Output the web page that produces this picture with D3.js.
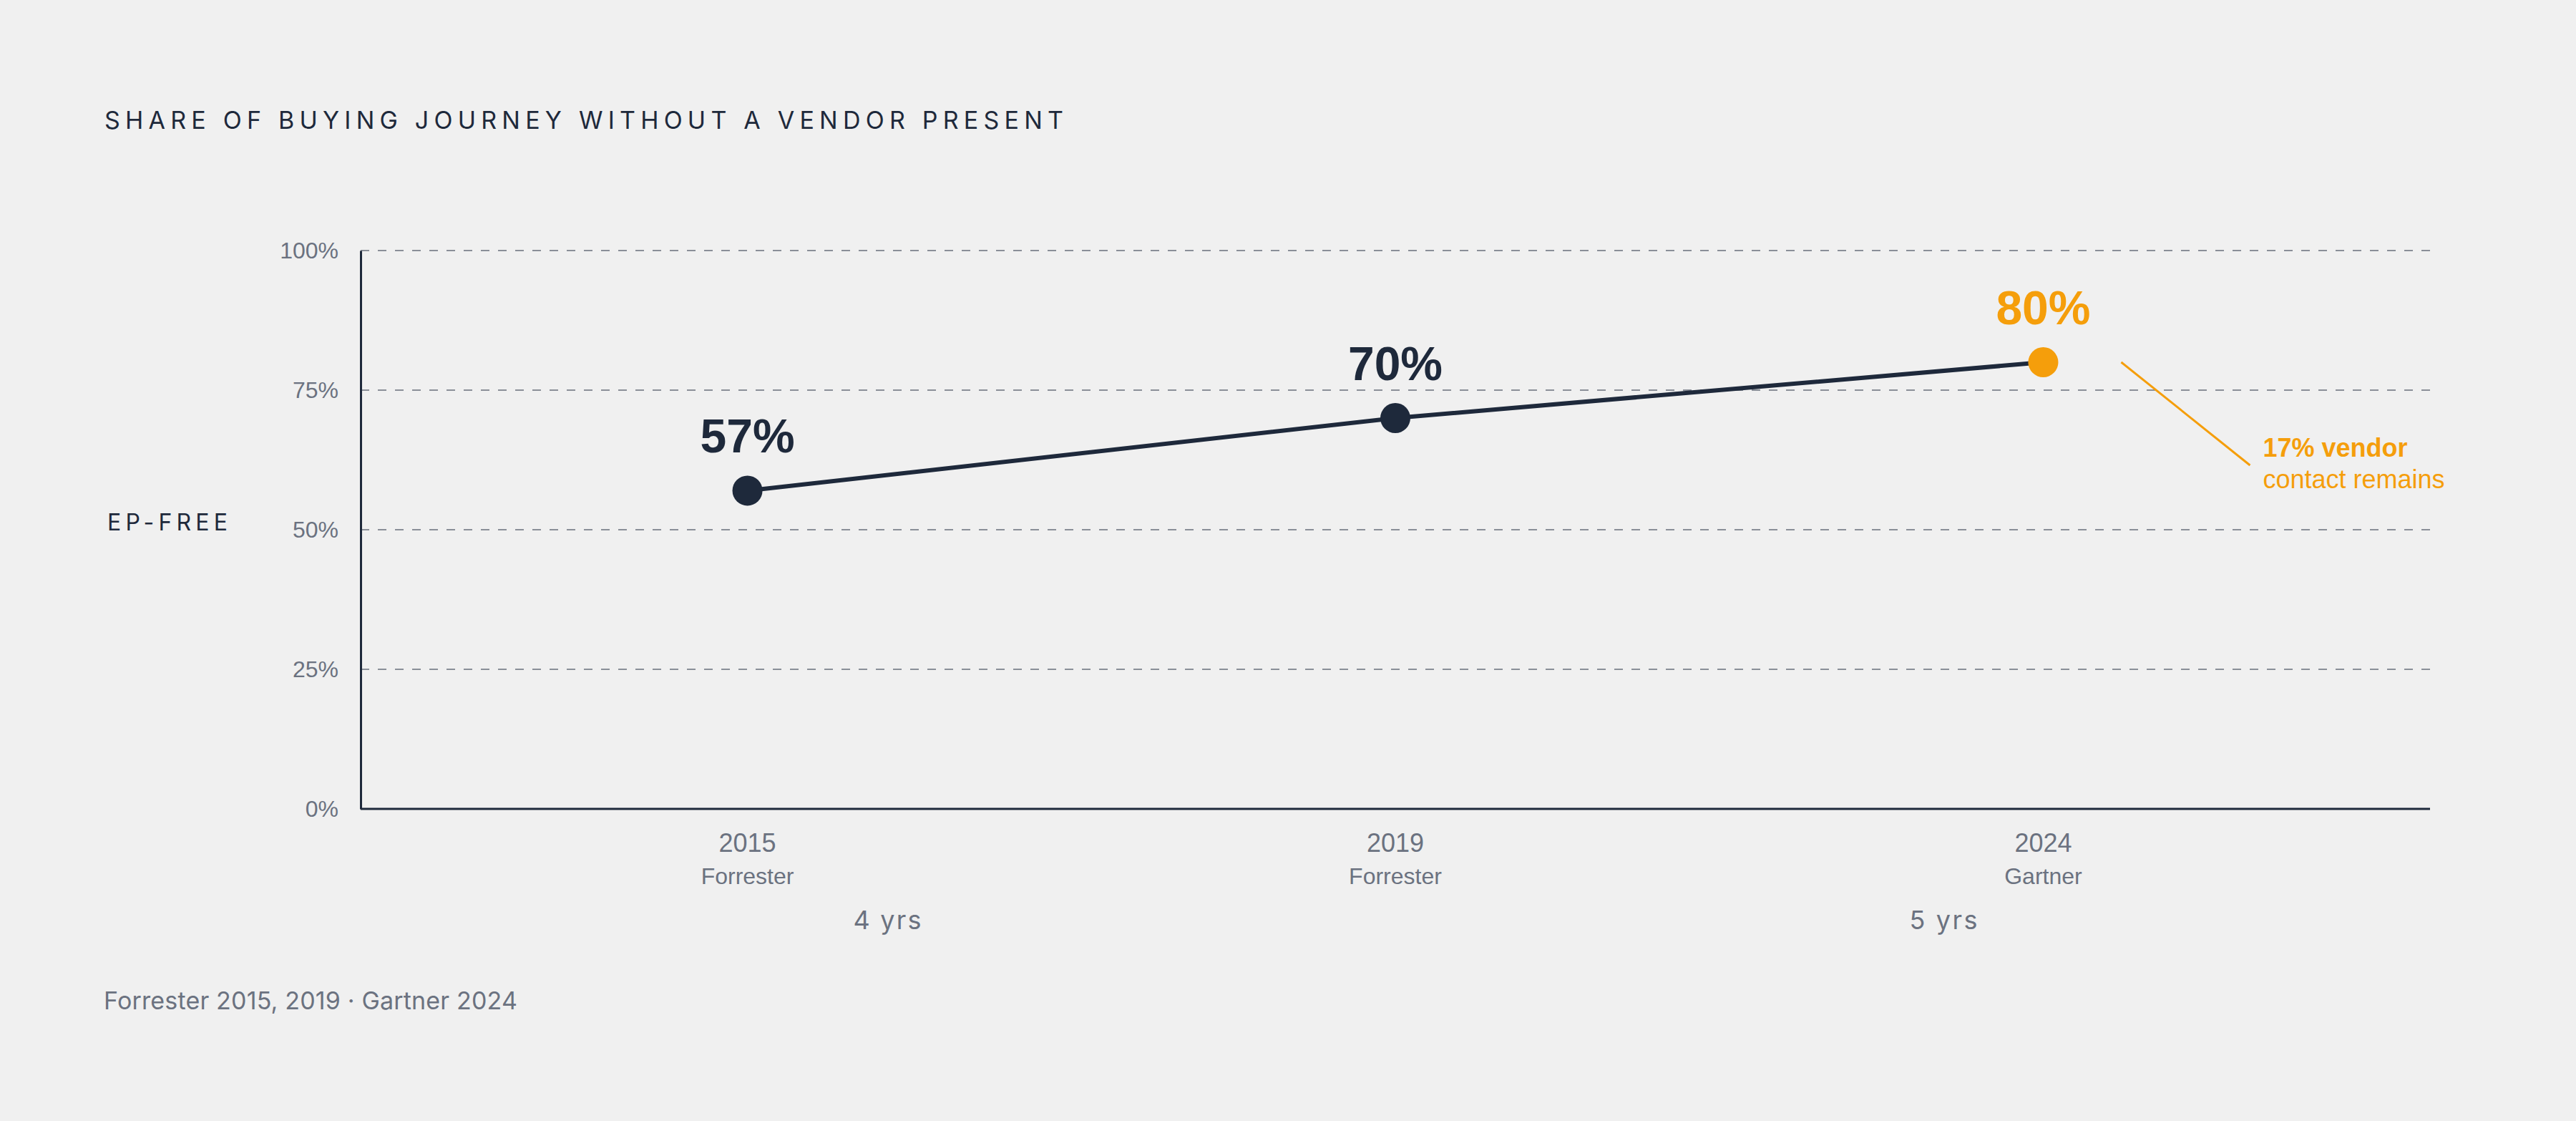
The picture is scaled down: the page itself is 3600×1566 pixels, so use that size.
<!DOCTYPE html>
<html>
<head>
<meta charset="utf-8">
<script src="https://cdn.jsdelivr.net/npm/d3@7/dist/d3.min.js"></script>
<style>
  html, body { margin: 0; padding: 0; background: #f0f0f0; }
  svg { display: block; }
</style>
</head>
<body>
<svg id="chart" width="3600" height="1566"></svg>
<script>
// ---- data ----
const categories = ["2015", "2019", "2024"];
const sources = ["Forrester", "Forrester", "Gartner"];
const values = [57, 70, 80];
const yTicks = [0, 25, 50, 75, 100];
const gapLabels = ["4 yrs", "5 yrs"];
const titleText = "SHARE OF BUYING JOURNEY WITHOUT A VENDOR PRESENT";
const yLabelText = "EP-FREE";
const footerText = "Forrester 2015, 2019 \u00b7 Gartner 2024";
const calloutLines = ["17% vendor", "contact remains"];

// ---- style ----
const DARK = "#1e293b";
const GREY = "#6b7280";
const ORANGE = "#f59e0b";
const GRID = "#8a8f98";
const ARIAL = "'Liberation Sans', Arial, sans-serif";
const INTER = "Inter, 'Noto Sans', sans-serif";

const svg = d3.select("#chart");
svg.append("rect").attr("width", 3600).attr("height", 1566).attr("fill", "#f0f0f0");

const plot = { left: 504, right: 3396, top: 350, bottom: 1130 };

const x = d3.scalePoint().domain(categories).range([plot.left, plot.right]).padding(0.597);
const y = d3.scaleLinear().domain([0, 100]).range([plot.bottom, plot.top]);

function spaced(sel, target) {
  const n = sel.text().length;
  const nat = sel.node().getComputedTextLength();
  sel.attr("letter-spacing", ((target - nat) / Math.max(1, n - 1)).toFixed(2));
}

// title
const title = svg.append("text")
  .attr("x", 146).attr("y", 180)
  .attr("font-family", INTER).attr("font-size", 34).attr("fill", DARK)
  .text(titleText);
spaced(title, 1340);

// y label
const yl = svg.append("text")
  .attr("x", 150).attr("y", 741)
  .attr("font-family", INTER).attr("font-size", 32).attr("fill", DARK)
  .text(yLabelText);
spaced(yl, 168);

// grid
svg.append("g").selectAll("line")
  .data(yTicks.filter(d => d > 0))
  .join("line")
  .attr("x1", plot.left).attr("x2", plot.right)
  .attr("y1", d => y(d)).attr("y2", d => y(d))
  .attr("stroke", GRID).attr("stroke-width", 2)
  .attr("stroke-dasharray", "12 12");

// y axis
const yAxis = svg.append("g")
  .attr("transform", `translate(${plot.left},0)`)
  .call(d3.axisLeft(y).tickValues(yTicks).tickFormat(d => d + "%").tickSize(0).tickPadding(31));
yAxis.select(".domain").attr("stroke", DARK).attr("stroke-width", 3);
yAxis.selectAll("text")
  .attr("font-family", ARIAL).attr("font-size", 32).attr("fill", GREY);

// x axis
const xAxis = svg.append("g")
  .attr("transform", `translate(0,${plot.bottom})`)
  .call(d3.axisBottom(x).tickSize(0).tickFormat(""));
xAxis.select(".domain").attr("stroke", DARK).attr("stroke-width", 3)
  .attr("d", `M${plot.left},0H${plot.right}`);

// x labels
const xl = svg.append("g");
categories.forEach((c, i) => {
  xl.append("text")
    .attr("x", x(c)).attr("y", plot.bottom + 60)
    .attr("text-anchor", "middle")
    .attr("font-family", ARIAL).attr("font-size", 36).attr("fill", GREY)
    .text(c);
  xl.append("text")
    .attr("x", x(c)).attr("y", plot.bottom + 105)
    .attr("text-anchor", "middle")
    .attr("font-family", ARIAL).attr("font-size", 32).attr("fill", GREY)
    .text(sources[i]);
});

// gap labels
const gapFrac = [0.2545, 0.7649];
const gx = d3.scaleLinear().domain([0, 1]).range([plot.left, plot.right]);
gapLabels.forEach((g, i) => {
  const t = svg.append("text")
    .attr("y", plot.bottom + 168)
    .attr("font-family", INTER).attr("font-size", 36).attr("fill", GREY)
    .text(g);
  spaced(t, 95);
  t.attr("x", gx(gapFrac[i]) - 47.5);
});

// line
const pts = categories.map((c, i) => ({ c, v: values[i], i }));
svg.append("path")
  .datum(pts)
  .attr("fill", "none").attr("stroke", DARK).attr("stroke-width", 6)
  .attr("d", d3.line().x(d => x(d.c)).y(d => y(d.v)));

// dots
svg.append("g").selectAll("circle")
  .data(pts).join("circle")
  .attr("cx", d => x(d.c)).attr("cy", d => y(d.v)).attr("r", 21)
  .attr("fill", d => d.i === pts.length - 1 ? ORANGE : DARK);

// value labels
svg.append("g").selectAll("text")
  .data(pts).join("text")
  .attr("x", d => x(d.c)).attr("y", d => y(d.v) - 53)
  .attr("text-anchor", "middle")
  .attr("font-family", ARIAL).attr("font-weight", "bold").attr("font-size", 66)
  .attr("fill", d => d.i === pts.length - 1 ? ORANGE : DARK)
  .text(d => d.v + "%");

// callout
const last = pts[pts.length - 1];
const cx0 = x(last.c) + 109, cy0 = y(last.v);
const cx1 = cx0 + 180, cy1 = cy0 + 144;
svg.append("line")
  .attr("x1", cx0).attr("y1", cy0).attr("x2", cx1).attr("y2", cy1)
  .attr("stroke", ORANGE).attr("stroke-width", 3);
svg.append("text")
  .attr("x", cx1 + 18).attr("y", cy1 - 12)
  .attr("font-family", ARIAL).attr("font-weight", "bold").attr("font-size", 36).attr("fill", ORANGE)
  .text(calloutLines[0]);
svg.append("text")
  .attr("x", cx1 + 18).attr("y", cy1 + 32)
  .attr("font-family", ARIAL).attr("font-size", 36).attr("fill", ORANGE)
  .text(calloutLines[1]);

// footer
const footer = svg.append("text")
  .attr("x", 145).attr("y", 1410)
  .attr("font-family", INTER).attr("font-size", 34).attr("fill", GREY)
  .text(footerText);
spaced(footer, 578);
</script>
</body>
</html>
